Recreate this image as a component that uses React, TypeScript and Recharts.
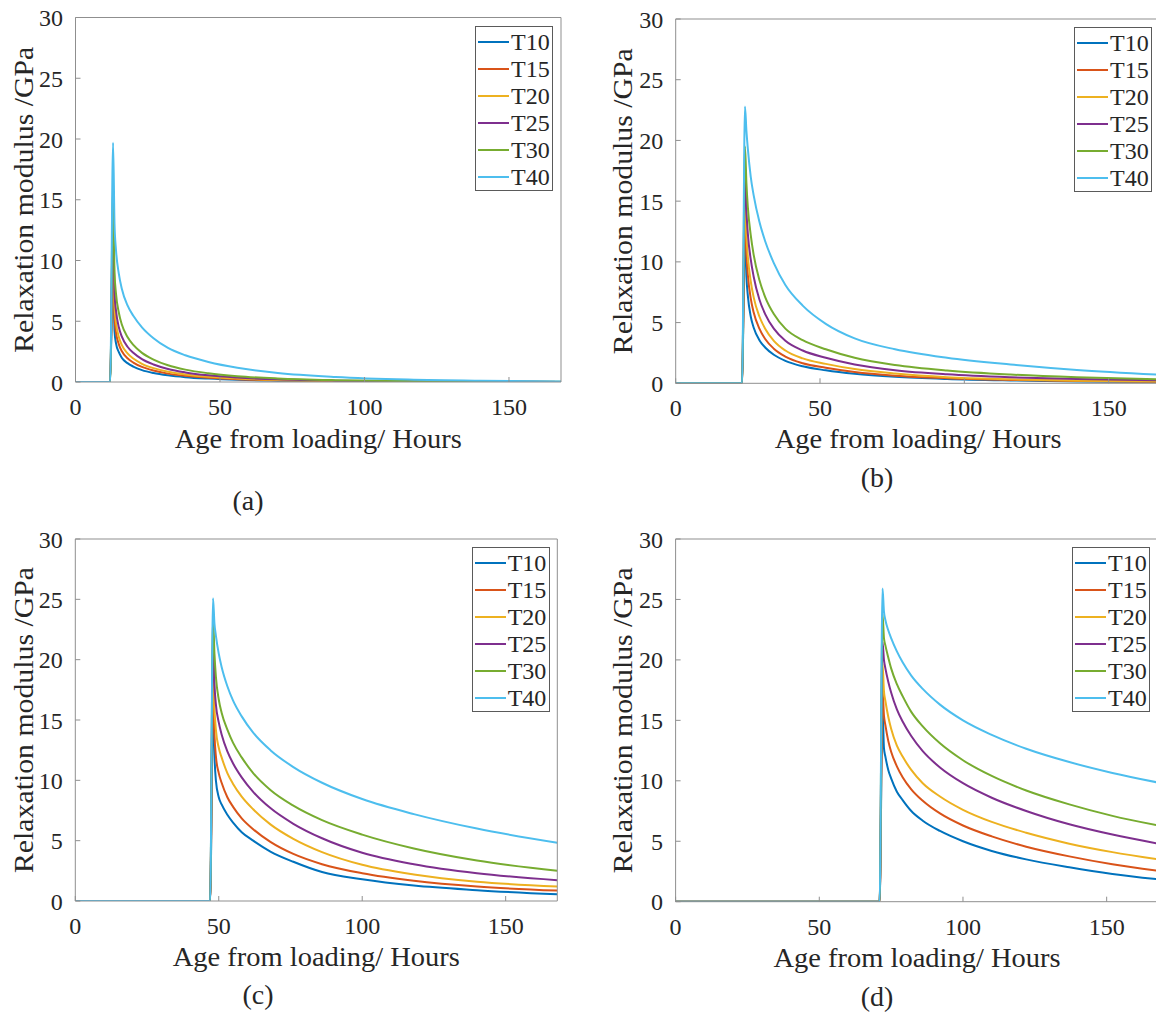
import React from 'react';
import { LineChart, Line, XAxis, YAxis, Legend } from 'recharts';

const SERIES = ['T10', 'T15', 'T20', 'T25', 'T30', 'T40'];
const COLORS = ['#0072BD', '#D95319', '#EDB120', '#7E2F8E', '#77AC30', '#4DBEEE'];
const X_TICKS = [0, 50, 100, 150];
const Y_TICKS = [0, 5, 10, 15, 20, 25, 30];
const X_LABEL = 'Age from loading/ Hours';
const Y_LABEL = 'Relaxation modulus /GPa';
const PANEL_LABELS = ['(a)', '(b)', '(c)', '(d)'];

// (a) loading at about 12 h
const hoursA = [0, 12, 13, 13.5, 14, 15, 16, 18, 20, 23, 27, 32, 38, 46, 56, 70, 90, 115, 140, 168];
const T10a = [0, 0, 10.5, 4.2, 3.2, 2.45, 2.0, 1.55, 1.27, 0.98, 0.74, 0.55, 0.4, 0.28, 0.18, 0.11, 0.055, 0.027, 0.013, 0.006];
const T15a = [0, 0, 12, 5.3, 4.1, 3.1, 2.55, 1.95, 1.6, 1.24, 0.94, 0.69, 0.51, 0.35, 0.23, 0.14, 0.07, 0.035, 0.017, 0.008];
const T20a = [0, 0, 13, 6.2, 4.9, 3.7, 3.05, 2.35, 1.93, 1.5, 1.14, 0.84, 0.62, 0.43, 0.29, 0.17, 0.085, 0.04, 0.02, 0.01];
const T25a = [0, 0, 14.5, 7.3, 5.9, 4.5, 3.75, 2.9, 2.4, 1.88, 1.44, 1.07, 0.79, 0.55, 0.37, 0.22, 0.11, 0.05, 0.025, 0.01];
const T30a = [0, 0, 16, 9.0, 7.3, 5.7, 4.75, 3.7, 3.05, 2.4, 1.85, 1.38, 1.02, 0.72, 0.48, 0.29, 0.15, 0.07, 0.035, 0.015];
const T40a = [0, 0, 19.7, 13.0, 10.9, 8.9, 7.7, 6.3, 5.45, 4.5, 3.6, 2.8, 2.2, 1.65, 1.17, 0.75, 0.42, 0.2, 0.1, 0.05];

// (b) loading at 24 h
const hoursB = [0, 23, 24, 24.5, 25, 26, 27, 29, 31, 34, 38, 44, 52, 62, 76, 94, 116, 139, 168];
const T10b = [0, 0, 12.5, 8.8, 7.2, 5.5, 4.6, 3.55, 2.95, 2.35, 1.85, 1.4, 1.07, 0.78, 0.53, 0.35, 0.23, 0.15, 0.1];
const T15b = [0, 0, 14, 10.6, 8.9, 7.0, 5.85, 4.5, 3.65, 2.85, 2.2, 1.65, 1.28, 0.93, 0.63, 0.42, 0.28, 0.19, 0.13];
const T20b = [0, 0, 15.5, 12.2, 10.4, 8.4, 7.1, 5.5, 4.5, 3.5, 2.7, 2.05, 1.6, 1.17, 0.8, 0.5, 0.33, 0.22, 0.15];
const T25b = [0, 0, 17.5, 14.2, 12.3, 10.2, 8.8, 6.9, 5.7, 4.5, 3.5, 2.7, 2.1, 1.55, 1.08, 0.74, 0.5, 0.35, 0.24];
const T30b = [0, 0, 19.5, 16.5, 14.5, 12.2, 10.6, 8.5, 7.1, 5.7, 4.5, 3.55, 2.8, 2.1, 1.5, 1.05, 0.72, 0.5, 0.33];
const T40b = [0, 0, 22.8, 20.8, 19.3, 17.0, 15.5, 13.3, 11.7, 9.9, 8.1, 6.4, 4.9, 3.7, 2.8, 2.1, 1.55, 1.1, 0.7];

// (c) loading at 48 h
const hoursC = [0, 47, 48, 48.5, 49, 50, 51, 53, 55, 58, 62, 68, 76, 86, 100, 118, 140, 168];
const T10c = [0, 0, 16.5, 12.0, 10.0, 8.6, 8.0, 7.15, 6.5, 5.7, 5.0, 4.1, 3.25, 2.4, 1.8, 1.28, 0.9, 0.55];
const T15c = [0, 0, 18, 13.8, 12.0, 10.6, 9.8, 8.6, 7.8, 6.85, 5.95, 4.9, 3.9, 3.05, 2.3, 1.68, 1.2, 0.86];
const T20c = [0, 0, 20, 16.0, 14.2, 12.7, 11.9, 10.6, 9.7, 8.65, 7.6, 6.35, 5.15, 4.05, 3.0, 2.2, 1.6, 1.2];
const T25c = [0, 0, 22, 18.0, 16.3, 14.8, 13.8, 12.4, 11.4, 10.25, 9.05, 7.7, 6.4, 5.2, 4.0, 3.05, 2.3, 1.72];
const T30c = [0, 0, 23.5, 20.5, 18.6, 16.7, 15.6, 14.2, 13.1, 11.9, 10.6, 9.2, 7.9, 6.7, 5.5, 4.35, 3.35, 2.5];
const T40c = [0, 0, 25.1, 23.0, 22.0, 20.5, 19.4, 17.8, 16.6, 15.3, 13.95, 12.5, 11.1, 9.8, 8.45, 7.2, 6.0, 4.83];

// (d) loading at 72 h
const hoursD = [0, 71, 72, 72.5, 73, 74, 75, 77, 79, 82, 86, 92, 100, 110, 122, 137, 152, 168];
const T10d = [0, 0, 16, 12.7, 12.0, 10.9, 10.2, 9.1, 8.4, 7.5, 6.7, 5.85, 5.0, 4.2, 3.5, 2.85, 2.3, 1.85];
const T15d = [0, 0, 17.5, 15.4, 14.6, 13.3, 12.4, 11.2, 10.3, 9.3, 8.35, 7.3, 6.3, 5.4, 4.55, 3.75, 3.1, 2.56];
const T20d = [0, 0, 19.7, 17.4, 16.6, 15.3, 14.3, 12.9, 12.0, 10.9, 9.8, 8.7, 7.6, 6.6, 5.7, 4.8, 4.1, 3.5];
const T25d = [0, 0, 21.5, 20.0, 19.3, 18.2, 17.3, 15.9, 14.9, 13.7, 12.45, 11.1, 9.8, 8.6, 7.5, 6.4, 5.55, 4.8];
const T30d = [0, 0, 23.8, 21.8, 21.2, 20.2, 19.3, 18.0, 17.0, 15.7, 14.5, 13.1, 11.7, 10.4, 9.2, 8.05, 7.1, 6.3];
const T40d = [0, 0, 25.9, 24.0, 23.3, 22.45, 21.8, 20.7, 19.8, 18.7, 17.6, 16.3, 15.0, 13.8, 12.65, 11.55, 10.65, 9.85];

const FONT = "'Liberation Serif', 'Times New Roman', Times, serif";
const TEXT = '#262626';
const AXIS = '#8f8f8f';

function buildRows(hours: number[], series: number[][]) {
  return hours.map((h, i) => {
    const row: Record<string, number> = { h };
    SERIES.forEach((s, k) => {
      row[s] = series[k][i];
    });
    return row;
  });
}

type Cfg = {
  rows: Record<string, number>[];
  left: number;
  top: number;
  width: number;
  height: number;
  mTop: number;
  mRight: number;
  yAxisW: number;
  xAxisH: number;
  legendLeft: number;
  legendTop: number;
  yLabelX: number;
  xLabelDy: number;
  label: string;
  labelX: number;
  labelY: number;
};

const panels: Cfg[] = [
  {
    rows: buildRows(hoursA, [T10a, T15a, T20a, T25a, T30a, T40a]),
    left: 0, top: 0, width: 580, height: 525,
    mTop: 16.5, mRight: 18, yAxisW: 75.5, xAxisH: 143,
    legendLeft: 475, legendTop: 26, yLabelX: 33, xLabelDy: 66,
    label: PANEL_LABELS[0], labelX: 248, labelY: 510,
  },
  {
    rows: buildRows(hoursB, [T10b, T15b, T20b, T25b, T30b, T40b]),
    left: 600, top: 0, width: 570, height: 525,
    mTop: 18, mRight: 8.4, yAxisW: 75.7, xAxisH: 141.7,
    legendLeft: 474, legendTop: 27, yLabelX: 32, xLabelDy: 65,
    label: PANEL_LABELS[1], labelX: 277, labelY: 487,
  },
  {
    rows: buildRows(hoursC, [T10c, T15c, T20c, T25c, T30c, T40c]),
    left: 0, top: 520, width: 580, height: 496,
    mTop: 18, mRight: 21.7, yAxisW: 75.3, xAxisH: 115,
    legendLeft: 471.7, legendTop: 27, yLabelX: 33, xLabelDy: 65,
    label: PANEL_LABELS[2], labelX: 258, labelY: 484,
  },
  {
    rows: buildRows(hoursD, [T10d, T15d, T20d, T25d, T30d, T40d]),
    left: 600, top: 520, width: 570, height: 496,
    mTop: 18, mRight: 10.6, yAxisW: 75.6, xAxisH: 114.3,
    legendLeft: 472, legendTop: 27, yLabelX: 32, xLabelDy: 65,
    label: PANEL_LABELS[3], labelX: 277, labelY: 486,
  },
];

function LegendBox(props: any) {
  const payload: any[] = props.payload || [];
  return (
    <div
      style={{
        width: 76,
        height: 163,
        border: '1px solid #5a5a5a',
        background: '#fff',
        position: 'relative',
        fontFamily: FONT,
        fontSize: 24,
        color: TEXT,
      }}
    >
      {payload.map((p: any, i: number) => (
        <div
          key={p.value}
          style={{
            position: 'absolute',
            left: 2,
            top: 1.5 + i * 27,
            height: 27,
            display: 'flex',
            alignItems: 'center',
            whiteSpace: 'nowrap',
          }}
        >
          <svg width={31} height={4} style={{ display: 'block' }}>
            <line x1={0} y1={2} x2={31} y2={2} stroke={p.color} strokeWidth={2} />
          </svg>
          <span style={{ marginLeft: 2, lineHeight: '27px' }}>{p.value}</span>
        </div>
      ))}
    </div>
  );
}

function Panel({ cfg }: { cfg: Cfg }) {
  const plotTop = cfg.mTop + 1;
  const plotBottom = cfg.height - cfg.xAxisH;
  const plotLeft = cfg.yAxisW;
  const plotRight = cfg.width - cfg.mRight - 1;
  const yMid = (plotTop + plotBottom) / 2;
  const xMid = (plotLeft + plotRight) / 2;
  return (
    <div style={{ position: 'absolute', left: cfg.left, top: cfg.top }}>
      <LineChart
        width={cfg.width}
        height={cfg.height}
        data={cfg.rows}
        margin={{ top: cfg.mTop, right: cfg.mRight, left: 0, bottom: 0 }}
      >
        <XAxis
          dataKey="h"
          type="number"
          domain={[0, 168]}
          ticks={X_TICKS}
          interval={0}
          allowDataOverflow
          height={cfg.xAxisH}
          tickSize={-5}
          tickMargin={21}
          axisLine={{ stroke: AXIS, strokeWidth: 1 }}
          tickLine={{ stroke: AXIS, strokeWidth: 1 }}
          tick={{ fontSize: 24, fill: TEXT, fontFamily: FONT }}
          label={() => (
            <g>
              <text
                x={xMid}
                y={plotBottom + cfg.xLabelDy}
                textAnchor="middle"
                fontFamily={FONT}
                fontSize={28}
                fill={TEXT}
                textLength={287}
                lengthAdjust="spacingAndGlyphs"
              >
                {X_LABEL}
              </text>
              <text
                x={cfg.labelX}
                y={cfg.labelY}
                textAnchor="middle"
                fontFamily={FONT}
                fontSize={28}
                fill={TEXT}
              >
                {cfg.label}
              </text>
            </g>
          )}
        />
        <XAxis
          xAxisId="top"
          dataKey="h"
          orientation="top"
          type="number"
          domain={[0, 168]}
          ticks={X_TICKS}
          interval={0}
          allowDataOverflow
          height={1}
          tickSize={-5}
          tick={false}
          axisLine={{ stroke: AXIS, strokeWidth: 1 }}
          tickLine={{ stroke: AXIS, strokeWidth: 1 }}
        />
        <YAxis
          type="number"
          domain={[0, 30]}
          ticks={Y_TICKS}
          interval={0}
          allowDataOverflow
          width={cfg.yAxisW}
          tickSize={-5}
          tickMargin={17.5}
          axisLine={{ stroke: AXIS, strokeWidth: 1 }}
          tickLine={{ stroke: AXIS, strokeWidth: 1 }}
          tick={{ fontSize: 24, fill: TEXT, fontFamily: FONT }}
          label={() => (
            <text
              x={cfg.yLabelX}
              y={yMid}
              transform={`rotate(-90, ${cfg.yLabelX}, ${yMid})`}
              textAnchor="middle"
              fontFamily={FONT}
              fontSize={28}
              fill={TEXT}
              textLength={306}
              lengthAdjust="spacingAndGlyphs"
            >
              {Y_LABEL}
            </text>
          )}
        />
        <YAxis
          yAxisId="right"
          orientation="right"
          type="number"
          domain={[0, 30]}
          ticks={Y_TICKS}
          interval={0}
          allowDataOverflow
          width={1}
          tickSize={-5}
          tick={false}
          axisLine={{ stroke: AXIS, strokeWidth: 1 }}
          tickLine={{ stroke: AXIS, strokeWidth: 1 }}
        />
        <Legend
          layout="vertical"
          align="center"
          verticalAlign="middle"
          content={(p: any) => <LegendBox {...p} />}
          wrapperStyle={{ left: cfg.legendLeft, top: cfg.legendTop, width: 'auto', height: 'auto' }}
        />
        {SERIES.map((s, k) => (
          <Line
            key={s}
            dataKey={s}
            name={s}
            type="monotone"
            stroke={COLORS[k]}
            strokeWidth={2}
            dot={false}
            activeDot={false}
            legendType="line"
            isAnimationActive={false}
          />
        ))}
      </LineChart>
    </div>
  );
}

export default function App() {
  return (
    <div
      style={{
        position: 'absolute',
        left: 0,
        top: 0,
        width: 1156,
        height: 1016,
        overflow: 'hidden',
        background: '#fff',
      }}
    >
      {panels.map((cfg, i) => (
        <Panel key={i} cfg={cfg} />
      ))}
    </div>
  );
}
